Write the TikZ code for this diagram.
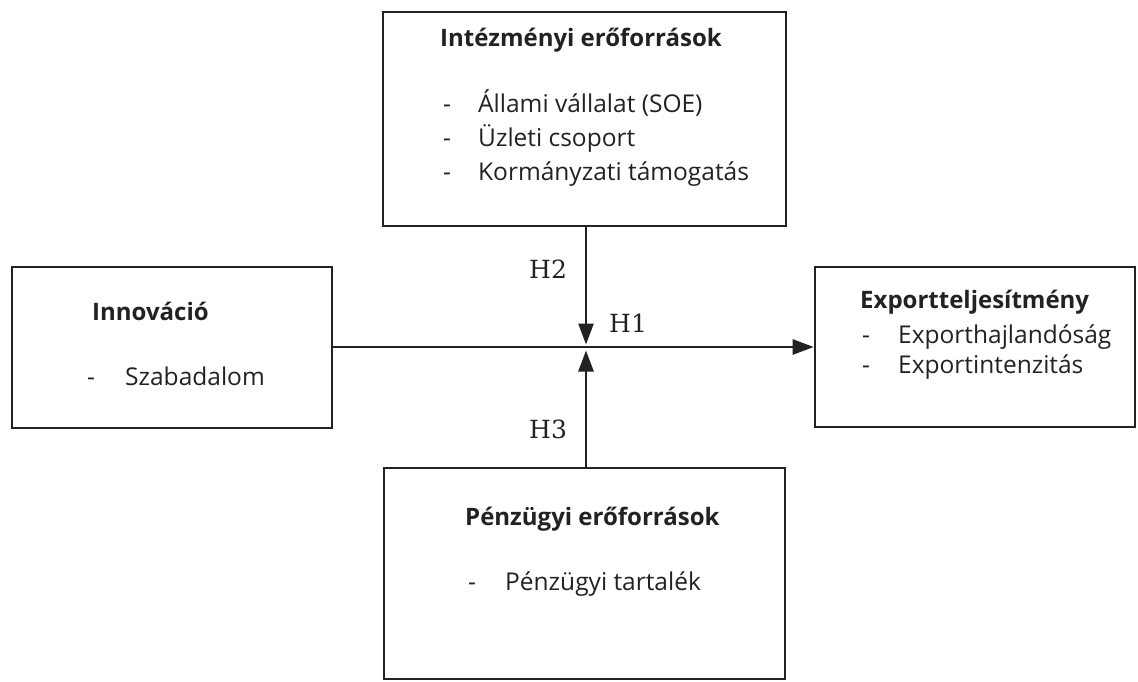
\documentclass[tikz,border=0pt]{standalone}
\usepackage{fontspec}
\setmainfont{Open Sans}
\newfontfamily\hfont{DejaVu Serif}
\usetikzlibrary{arrows.meta}
\definecolor{ink}{HTML}{222222}
\tikzset{
  box/.style={draw=ink, line width=2.6pt, fill=white, inner sep=0pt},
  head/.style={anchor=base west, inner sep=0pt, font=\fontsize{24}{28}\selectfont\bfseries, text=ink},
  item/.style={anchor=base west, inner sep=0pt, font=\fontsize{24.5}{28}\selectfont, text=ink},
  hyp/.style={anchor=base west, inner sep=0pt, font=\hfont\fontsize{25}{28}\selectfont, text=ink},
  link/.style={draw=ink, line width=2.6pt, -{Triangle[length=21pt,width=15pt]}}
}
\begin{document}
\begin{tikzpicture}[x=1pt,y=-1pt]
\useasboundingbox[fill=white] (0,0) rectangle (1138,682);

% boxes
\node[box, minimum width=403pt, minimum height=214pt] (inst) at (584.5,119) {};
\node[box, minimum width=320pt, minimum height=161pt] (inno) at (172,347.5) {};
\node[box, minimum width=320pt, minimum height=160pt] (expo) at (975,347) {};
\node[box, minimum width=401pt, minimum height=211pt] (fin)  at (584.5,573.5) {};

% institutional resources
\node[head] (instT) at (440,47) {Intézményi erőforrások};
\node[item] (instD1) at (443,113) {-};
\node[item] (instI1) at (478,113) {Állami vállalat (SOE)};
\node[item] (instD2) at (443,146.5) {-};
\node[item] (instI2) at (478,146.5) {Üzleti csoport};
\node[item] (instD3) at (443,180) {-};
\node[item] (instI3) at (478,180) {Kormányzati támogatás};

% innovation
\node[head] (innoT) at (92,320) {Innováció};
\node[item] (innoD1) at (87,385) {-};
\node[item] (innoI1) at (125,385) {Szabadalom};

% export performance
\node[head] (expoT) at (860,308) {Exportteljesítmény};
\node[item] (expoD1) at (862,343) {-};
\node[item] (expoI1) at (898,343) {Exporthajlandóság};
\node[item] (expoD2) at (862,373) {-};
\node[item] (expoI2) at (898,373) {Exportintenzitás};

% financial resources
\node[head] (finT) at (465,525) {Pénzügyi erőforrások};
\node[item] (finD1) at (468,590) {-};
\node[item] (finI1) at (505,590) {Pénzügyi tartalék};

% connectors
\coordinate (J) at (586,347);
\draw[link] (inno.east |- J) -- (expo.west |- J);
\draw[link, shorten >=2.5pt] (inst.south -| J) -- (J);
\draw[link, shorten >=3.5pt] (fin.north -| J) -- (J);

% hypothesis labels
\node[hyp] (h2) at (529,278) {H2};
\node[hyp] (h1) at (609,332) {H1};
\node[hyp] (h3) at (529,438) {H3};
\end{tikzpicture}
\end{document}
